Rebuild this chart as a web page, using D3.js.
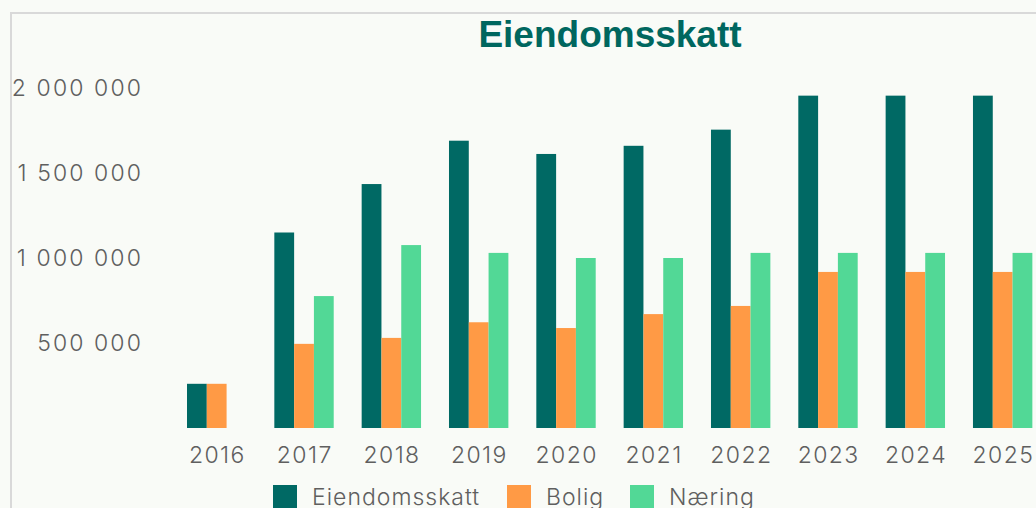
<!DOCTYPE html>
<html><head><meta charset="utf-8">
<script src="https://cdn.jsdelivr.net/npm/d3@7"></script>
<style>
html,body{margin:0;padding:0;background:#f9fbf7;}
svg{display:block;}
</style></head>
<body><svg id="c" width="1036" height="508"></svg>
<script>
const years = ["2016","2017","2018","2019","2020","2021","2022","2023","2024","2025"];
const seriesNames = ["Eiendomsskatt","Bolig","Næring"];
const eiendomsskatt = [260000,1150000,1435000,1690000,1612000,1660000,1755000,1955000,1955000,1955000];
const bolig = [260000,495000,530000,622000,588000,670000,718000,918000,918000,918000];
const naering = [0,776000,1076000,1030000,1000000,1000000,1030000,1030000,1030000,1030000];
const yTicks = [500000,1000000,1500000,2000000];
const colors = ["#006964","#ff9a45","#52d896"];
const title = "Eiendomsskatt";

const svg = d3.select("#c");
const FONT = "Inter, 'Noto Sans', sans-serif";
// frame
svg.append("rect").attr("x",11).attr("y",13).attr("width",1200).attr("height",600)
  .attr("fill","#f9fbf7").attr("stroke","#d9d9d9").attr("stroke-width",2);

svg.append("text").attr("x",610).attr("y",47).attr("text-anchor","middle")
  .attr("font-family","'Liberation Sans', Arial, sans-serif").attr("font-weight","bold")
  .attr("font-size",37).attr("fill","#00675f").text(title);

const step = 87.33, pad = 0.32;
const x = d3.scaleBand().domain(years)
  .range([187 - step*pad, 187 - step*pad + step*(years.length - pad + 2*pad)])
  .paddingInner(pad).paddingOuter(pad);
const x1 = d3.scaleBand().domain(seriesNames).range([0, x.bandwidth()]);
const y = d3.scaleLinear().domain([0,2000000]).range([428,88]);

const data = [eiendomsskatt, bolig, naering];
const g = svg.append("g");
seriesNames.forEach((s,si)=>{
  g.selectAll(null).data(years).enter().append("rect")
    .attr("x", d=>x(d)+x1(s))
    .attr("width", x1.bandwidth())
    .attr("y", (d,i)=>y(data[si][i]))
    .attr("height", (d,i)=>y(0)-y(data[si][i]))
    .attr("fill", colors[si]);
});

const loc = d3.formatLocale({thousands:" ",grouping:[3],decimal:",",currency:["",""]});
const fmt = loc.format(",d");

const ya = svg.append("g").attr("transform","translate(143,0)")
  .call(d3.axisLeft(y).tickValues(yTicks).tickFormat(fmt).tickSize(0).tickPadding(0));
ya.select(".domain").remove();
ya.selectAll("text").attr("font-family",FONT).attr("font-weight",300).attr("font-size",23)
  .attr("letter-spacing","2.1px").attr("fill","#5f5f5f");

const xa = svg.append("g").attr("transform","translate(0,428)")
  .call(d3.axisBottom(x).tickSize(0).tickPadding(19));
xa.select(".domain").remove();
xa.selectAll("text").attr("font-family",FONT).attr("font-weight",300).attr("font-size",23)
  .attr("letter-spacing","1.4px").attr("dx","0.7px").attr("fill","#5f5f5f");

const legendX = [273, 507, 630];
const lg = svg.append("g");
seriesNames.forEach((s,i)=>{
  lg.append("rect").attr("x",legendX[i]).attr("y",485).attr("width",24).attr("height",24).attr("fill",colors[i]);
  lg.append("text").attr("x",legendX[i]+39).attr("y",505).attr("font-family",FONT).attr("font-weight",300)
    .attr("font-size",23).attr("letter-spacing","1px").attr("fill","#5f5f5f").text(s);
});
</script></body></html>
